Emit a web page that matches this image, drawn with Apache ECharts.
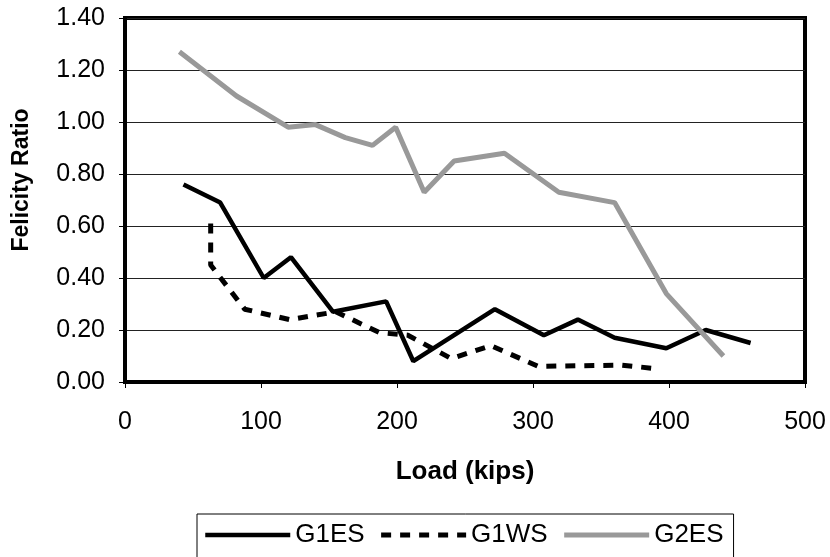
<!DOCTYPE html>
<html>
<head>
<meta charset="utf-8">
<script src="https://cdn.jsdelivr.net/npm/echarts@6/dist/echarts.min.js"></script>
<style>
  html, body { margin: 0; padding: 0; background: #fff; }
  #chart { width: 830px; height: 557px; }
</style>
</head>
<body>
<div id="chart"></div>
<script>
// load (kips) / felicity ratio
const g1esLoad = [43, 70, 102, 122, 153, 192, 212, 272, 308, 333, 360, 398, 427, 460]
const g1esRatio = [0.76, 0.69, 0.40, 0.48, 0.27, 0.31, 0.08, 0.28, 0.18, 0.24, 0.17, 0.13, 0.20, 0.15]

const g1wsLoad = [63, 63, 88, 121, 155, 187, 208, 240, 269, 304, 365, 393]
const g1wsRatio = [0.61, 0.45, 0.28, 0.24, 0.27, 0.19, 0.18, 0.09, 0.14, 0.06, 0.065, 0.05]

const g2esLoad = [40, 82, 120, 140, 162, 182, 199, 220, 242, 279, 319, 360, 398, 440]
const g2esRatio = [1.27, 1.10, 0.98, 0.99, 0.94, 0.91, 0.98, 0.73, 0.85, 0.88, 0.73, 0.69, 0.34, 0.10]

const pairs = (xs, ys) => xs.map((x, i) => [x, ys[i]])

const font = 'Liberation Sans, Arial, sans-serif'

const chart = echarts.init(document.getElementById('chart'), null, { renderer: 'canvas' })
chart.setOption({
  backgroundColor: '#fff',
  animation: false,
  textStyle: { fontFamily: font, color: '#000' },
  grid: {
    left: 125, right: 25, top: 18, bottom: 175,
    show: true, borderColor: '#000', borderWidth: 4
  },
  legend: {
    left: 197, top: 514,
    padding: [8, 10, 12, 6],
    itemGap: 14,
    itemWidth: 85,
    itemHeight: 14,
    borderColor: '#000',
    borderWidth: 1,
    // plain line in the key, no marker
    itemStyle: { opacity: 0 },
    lineStyle: { width: 'inherit' },
    textStyle: { fontSize: 26, fontFamily: font, color: '#000' },
    data: ['G1ES', 'G1WS', 'G2ES']
  },
  xAxis: {
    type: 'value',
    min: 0, max: 500, interval: 100,
    name: 'Load (kips)',
    nameLocation: 'middle',
    nameGap: 77,
    nameTextStyle: { fontSize: 26, fontWeight: 'bold', fontFamily: font, color: '#000' },
    axisLine: { lineStyle: { color: '#000', width: 4 } },
    axisTick: { show: true, length: 6, lineStyle: { color: '#000', width: 1 } },
    axisLabel: { fontSize: 25, margin: 28, color: '#000', fontFamily: font },
    splitLine: { show: false }
  },
  yAxis: {
    type: 'value',
    min: 0, max: 1.4, interval: 0.2,
    name: 'Felicity Ratio',
    nameLocation: 'middle',
    nameGap: 92,
    nameTextStyle: { fontSize: 23, fontWeight: 'bold', fontFamily: font, color: '#000', padding: [0, 0, 0, 40] },
    axisLine: { show: true, lineStyle: { color: '#000', width: 4 } },
    axisTick: { show: true, length: 6, lineStyle: { color: '#000', width: 1 } },
    axisLabel: {
      fontSize: 25, margin: 20, color: '#000', fontFamily: font,
      formatter: v => v.toFixed(2)
    },
    splitLine: { show: true, lineStyle: { color: '#222', width: 1 } }
  },
  series: [
    {
      name: 'G1ES', type: 'line', symbol: 'none',
      lineStyle: { color: '#000', width: 4.5 },
      itemStyle: { color: '#000' },
      data: pairs(g1esLoad, g1esRatio)
    },
    {
      name: 'G1WS', type: 'line', symbol: 'none',
      lineStyle: { color: '#000', width: 5, type: [10, 9] },
      itemStyle: { color: '#000' },
      data: pairs(g1wsLoad, g1wsRatio)
    },
    {
      name: 'G2ES', type: 'line', symbol: 'none',
      lineStyle: { color: '#999', width: 5 },
      itemStyle: { color: '#999' },
      data: pairs(g2esLoad, g2esRatio)
    }
  ]
})
</script>
</body>
</html>
